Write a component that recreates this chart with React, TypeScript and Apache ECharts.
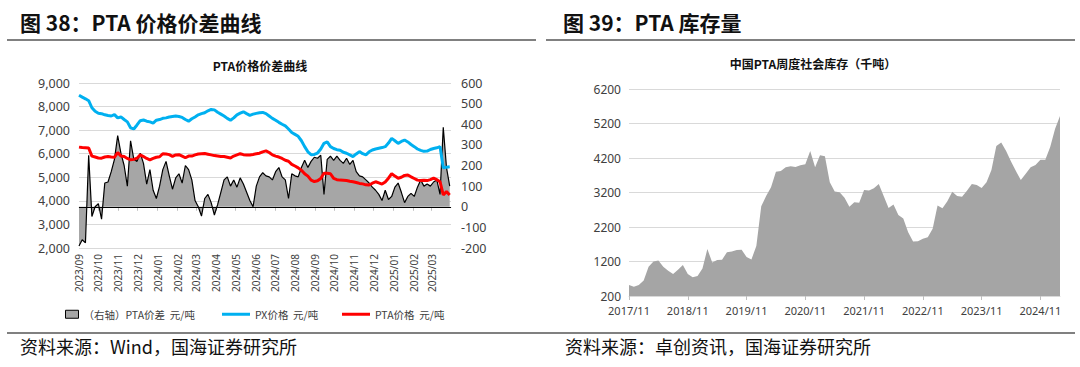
import React, { useEffect, useRef } from 'react';
import * as echarts from 'echarts';

// ---------- Left chart: PTA price / spread (sampled every 5 days from 2023-09-01) ----------
const spreadStartY = 2023;
const spreadStartM = 8; // September (0-based)
const spreadStepDays = 5;

const pxPrice = [
  8480, 8400, 8330, 8250, 7950, 7800, 7720, 7700, 7650, 7620,
  7600, 7660, 7520, 7560, 7450, 7350, 7100, 7050, 7220, 7400,
  7430, 7380, 7350, 7300, 7420, 7450, 7500, 7520, 7560, 7580,
  7600, 7580, 7540, 7450, 7380, 7480, 7560, 7650, 7700, 7740,
  7820, 7880, 7860, 7760, 7680, 7600, 7500, 7420, 7520, 7650,
  7720, 7780, 7700, 7630, 7680, 7710, 7740, 7750, 7700, 7600,
  7500, 7420, 7330, 7250, 7180, 7050, 6900, 6820, 6740, 6550,
  6300, 6080, 5960, 5970, 6030, 6200, 6440, 6500, 6300, 6220,
  6170, 6150, 6060, 6020, 5950, 5880, 5990, 6090, 6000, 5950,
  6080, 6160, 6200, 6230, 6260, 6300, 6450, 6650, 6550, 6440,
  6520, 6580, 6500, 6390, 6300, 6200, 6140, 6100, 6110, 6180,
  6220, 6250, 6300, 5400, 5430, 5450,
];

const ptaPrice = [
  6280, 6260, 6250, 6240, 5900, 5860, 5820, 5810, 5860, 5880,
  5860, 5850, 6050, 5900, 5880, 5800, 5740, 5760, 5810, 5950,
  5880, 5800, 5740, 5800, 5850, 5870, 6000, 5990, 5960, 5890,
  5950, 5960, 5900, 5830, 5900, 5900, 5950, 5990, 6000, 6010,
  5980, 5950, 5920, 5900, 5880, 5880, 5850, 5820, 5900, 5950,
  6000, 5960, 5950, 5950, 5970, 6000, 6020, 6080, 6120, 6050,
  5950, 5900, 5860, 5800, 5720, 5680, 5550, 5480, 5400, 5300,
  5150, 5050, 4880, 4820, 4850, 4950, 5170, 5170, 5150, 4950,
  4900, 4880, 4870, 4860, 4830, 4810, 4780, 4740, 4720, 4680,
  4670, 4750, 4810, 4760, 4710, 4800, 4960, 5150, 5050, 4960,
  5000, 5080, 5100, 5020, 4950, 4880, 4860, 4870, 4860, 4900,
  4960, 4900, 4810, 4250, 4390, 4250,
];

const ptaSpread = [
  -190, -160, -175, 250, -47, 0, 15, -60, 115, 120,
  170, 230, 345, 260, 200, 100, 320, 230, 220, 260,
  210, 110, 180, 80, 40, 100, 180, 220, 150, 85,
  140, 160, 115, 200, 180, 130, 30, 0, -45, 40,
  60, 20, -40, 10, 70, 130, 145, 100, 130, 95,
  140, 110, 70, 30, 0, 100, 145, 165, 150, 145,
  130, 170, 190, 145, 130, 40, 160, 150, 145, 190,
  225, 190, 220, 240, 235, 250, 60, 230, 245, 225,
  245, 225, 210, 235, 205, 225, 170, 150, 145, 130,
  115, 95, 80, 60, 30, 80, 35, 50, 95, 115,
  70, 20, 50, 65, 50, 95, 130, 100, 110, 100,
  120, 130, 60, 385, 190, 100,
];

const leftYTicks = { min: 2000, max: 9000, interval: 1000 };
const rightYTicks = { min: -200, max: 600, interval: 100 };

// ---------- Right chart: PTA weekly social inventory (monthly samples, 2017/11 - 2025/03) ----------
const invStartY = 2017;
const invStartM = 11;
const inventory = [
  520, 470, 520, 650, 1050, 1200, 1230, 1050, 930, 840,
  960, 1100, 840, 740, 780, 1000, 1560, 1170, 1240, 1250,
  1470, 1490, 1530, 1540, 1330, 1260, 1650, 2800, 3100, 3350,
  3800, 3820, 3930, 3960, 3940, 3990, 4020, 4400, 3930, 4280,
  4250, 3500, 3230, 3210, 3050, 2790, 2920, 2900, 3270, 3260,
  3320, 3450, 3100, 2750, 2850, 2550, 2450, 2050, 1780, 1790,
  1860, 1900, 2150, 2820, 2740, 2950, 3220, 3100, 3080, 3250,
  3450, 3420, 3330, 3500, 3850, 4550, 4650, 4400, 4100, 3820,
  3560, 3740, 3930, 4000, 4150, 4150, 4520, 5050, 5420,
];
const invYTicks = { min: 200, max: 6200, interval: 1000 };

const invMonths: string[] = inventory.map((_, i) => {
  const m0 = invStartM - 1 + i;
  const y = invStartY + Math.floor(m0 / 12);
  const m = (m0 % 12) + 1;
  return `${y}/${String(m).padStart(2, '0')}`;
});

const dateAt = (i: number) => new Date(spreadStartY, spreadStartM, 1 + i * spreadStepDays).getTime();

const CJK = '"Noto Sans CJK SC", "Noto Sans", sans-serif';
const NUM = '"Noto Sans", "DejaVu Sans", sans-serif';
const LABEL = '#404040';
const GRID = '#d9d9d9';

export default function App() {
  const ref = useRef<HTMLDivElement>(null);
  useEffect(() => {
    if (!ref.current) return;
    const chart = echarts.init(ref.current, undefined, { renderer: 'svg' });
    const fmtMonth = (v: number) => {
      const d = new Date(v);
      return `${d.getFullYear()}/${String(d.getMonth() + 1).padStart(2, '0')}`;
    };
    const DAY = 86400000;
    const option: any = {
      animation: false,
      backgroundColor: '#fff',
      grid: [
        { left: 79, top: 83, width: 372, height: 165 },
        { left: 629, top: 89, width: 431, height: 207 },
      ],
      xAxis: [
        {
          type: 'time',
          gridIndex: 0,
          min: new Date(2023, 8, 1).getTime(),
          max: new Date(2025, 2, 31).getTime(),
          minInterval: 28 * DAY,
          maxInterval: 31 * DAY,
          axisLine: { show: true, lineStyle: { color: GRID, width: 1 } },
          axisTick: { show: true, length: 4, lineStyle: { color: '#bfbfbf' } },
          splitLine: { show: false },
          axisLabel: {
            rotate: 90,
            formatter: fmtMonth,
            fontSize: 10,
            color: LABEL,
            fontFamily: NUM,
            margin: 6,
            showMaxLabel: false,
          },
        },
        {
          type: 'category',
          gridIndex: 1,
          data: invMonths,
          boundaryGap: false,
          axisLine: { show: true, lineStyle: { color: GRID, width: 1 } },
          axisTick: { show: true, interval: 11, length: 4, lineStyle: { color: '#bfbfbf' } },
          axisLabel: { interval: 11, fontSize: 11, color: LABEL, fontFamily: NUM, margin: 9 },
          splitLine: { show: false },
        },
      ],
      yAxis: [
        {
          type: 'value',
          gridIndex: 0,
          ...leftYTicks,
          axisLine: { show: false },
          axisTick: { show: false },
          splitLine: { show: true, lineStyle: { color: GRID, width: 1 } },
          axisLabel: {
            fontSize: 12.5,
            color: LABEL,
            fontFamily: NUM,
            margin: 9,
            formatter: (v: number) => v.toLocaleString('en-US'),
          },
        },
        {
          type: 'value',
          gridIndex: 0,
          position: 'right',
          ...rightYTicks,
          axisLine: { show: false },
          axisTick: { show: false },
          splitLine: { show: false },
          axisLabel: { fontSize: 12.5, color: LABEL, fontFamily: NUM, margin: 10, formatter: (v: number) => String(v) },
        },
        {
          type: 'value',
          gridIndex: 1,
          ...invYTicks,
          axisLine: { show: false },
          axisTick: { show: false },
          splitLine: { show: true, lineStyle: { color: GRID, width: 1 } },
          axisLabel: { fontSize: 12, color: LABEL, fontFamily: NUM, margin: 8, formatter: (v: number) => String(v) },
        },
      ],
      legend: [
        {
          left: 60, top: 304, itemWidth: 13, itemHeight: 8,
          textStyle: { fontSize: 10.5, color: LABEL, fontFamily: CJK },
          data: [{ name: '（右轴）PTA价差  元/吨', icon: 'rect', itemStyle: { color: '#a6a6a6', borderColor: '#000', borderWidth: 1 } }],
        },
        {
          left: 217, top: 304, itemWidth: 28, itemHeight: 3,
          textStyle: { fontSize: 10.5, color: LABEL, fontFamily: CJK },
          data: [{ name: 'PX价格  元/吨', icon: 'rect' }],
        },
        {
          left: 337, top: 304, itemWidth: 28, itemHeight: 3,
          textStyle: { fontSize: 10.5, color: LABEL, fontFamily: CJK },
          data: [{ name: 'PTA价格  元/吨', icon: 'rect' }],
        },
      ],
      series: [
        {
          name: '（右轴）PTA价差  元/吨',
          type: 'line',
          xAxisIndex: 0,
          yAxisIndex: 1,
          data: ptaSpread.map((v, i) => [dateAt(i), v]),
          showSymbol: false,
          symbol: 'none',
          color: '#a6a6a6',
          lineStyle: { color: '#000', width: 1.2 },
          areaStyle: { color: '#a6a6a6', opacity: 1 },
          markLine: {
            silent: true,
            symbol: 'none',
            label: { show: false },
            lineStyle: { color: '#000', width: 1, type: 'solid' },
            data: [{ yAxis: 0 }],
          },
          z: 1,
        },
        {
          name: 'PX价格  元/吨',
          type: 'line',
          xAxisIndex: 0,
          yAxisIndex: 0,
          data: pxPrice.map((v, i) => [dateAt(i), v]),
          showSymbol: false,
          symbol: 'none',
          color: '#00B0F0',
          lineStyle: { color: '#00B0F0', width: 3 },
          z: 3,
        },
        {
          name: 'PTA价格  元/吨',
          type: 'line',
          xAxisIndex: 0,
          yAxisIndex: 0,
          data: ptaPrice.map((v, i) => [dateAt(i), v]),
          showSymbol: false,
          symbol: 'none',
          color: '#FF0000',
          lineStyle: { color: '#FF0000', width: 3 },
          z: 4,
        },
        {
          name: '中国PTA周度社会库存',
          type: 'line',
          xAxisIndex: 1,
          yAxisIndex: 2,
          data: inventory,
          showSymbol: false,
          symbol: 'none',
          lineStyle: { width: 0 },
          areaStyle: { color: '#a5a5a5', opacity: 1, origin: 'start' },
        },
      ],
      graphic: [
        { type: 'text', left: 20, top: 11, style: { text: '图 38：PTA 价格价差曲线', font: `bold 21px ${CJK}`, fill: '#111' } },
        { type: 'line', shape: { x1: 7, y1: 40, x2: 536, y2: 40 }, style: { stroke: '#808080', lineWidth: 2 } },
        { type: 'text', left: 563, top: 11, style: { text: '图 39：PTA 库存量', font: `bold 21px ${CJK}`, fill: '#111' } },
        { type: 'line', shape: { x1: 546, y1: 40, x2: 1075, y2: 40 }, style: { stroke: '#808080', lineWidth: 2 } },
        { type: 'text', x: 260, y: 65, style: { text: 'PTA价格价差曲线', font: `bold 12px ${CJK}`, fill: '#111', textAlign: 'center', textVerticalAlign: 'middle' } },
        { type: 'text', x: 813, y: 63, style: { text: '中国PTA周度社会库存（千吨）', font: `bold 12px ${CJK}`, fill: '#111', textAlign: 'center', textVerticalAlign: 'middle' } },
        { type: 'line', shape: { x1: 7, y1: 333, x2: 1075, y2: 333 }, style: { stroke: '#808080', lineWidth: 2 } },
        { type: 'text', left: 20, top: 337, style: { text: '资料来源：Wind，国海证券研究所', font: `18px ${CJK}`, fill: '#111' } },
        { type: 'text', left: 565, top: 337, style: { text: '资料来源：卓创资讯，国海证券研究所', font: `18px ${CJK}`, fill: '#111' } },
      ],
    };
    chart.setOption(option);
    return () => chart.dispose();
  }, []);
  return (
    <div
      ref={ref}
      style={{ position: 'absolute', left: 0, top: 0, width: 1080, height: 367, background: '#fff' }}
    />
  );
}
